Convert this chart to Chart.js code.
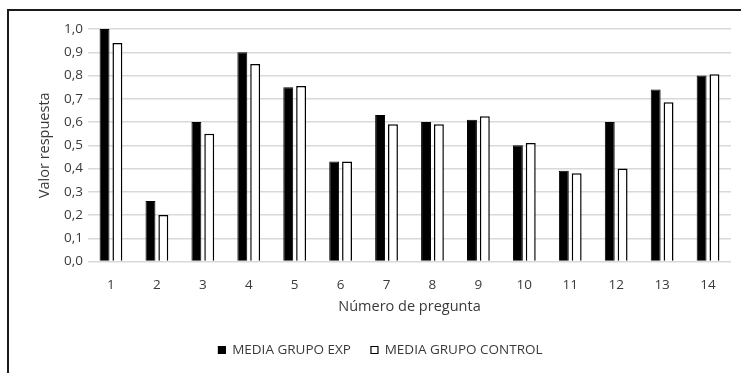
<!DOCTYPE html>
<html>
<head>
<meta charset="utf-8">
<script src="https://cdn.jsdelivr.net/npm/chart.js@4"></script>
<style>
  html, body { margin: 0; padding: 0; background: #fff; }
  #wrap { width: 741px; height: 373px; }
</style>
</head>
<body>
<div id="wrap"><canvas id="chart" width="741" height="373"></canvas></div>
<script>
// Data
const preguntas = ['1', '2', '3', '4', '5', '6', '7', '8', '9', '10', '11', '12', '13', '14'];
const mediaExp = [1.0, 0.26, 0.60, 0.90, 0.75, 0.43, 0.63, 0.60, 0.61, 0.50, 0.39, 0.60, 0.74, 0.80];
const mediaControl = [0.94, 0.20, 0.55, 0.85, 0.755, 0.43, 0.59, 0.59, 0.625, 0.51, 0.38, 0.40, 0.685, 0.805];

const FONT = '"Open Sans", "Liberation Sans", sans-serif';
const GREY = '#3a3a3a';

// Frame around the chart (like the Excel chart border)
const framePlugin = {
  id: 'frame',
  afterDraw(chart) {
    const ctx = chart.ctx;
    ctx.save();
    ctx.strokeStyle = '#1a1a1a';
    ctx.lineWidth = 2;
    ctx.strokeRect(8, 10, 760, 400);
    ctx.restore();
  }
};

const ctx = document.getElementById('chart').getContext('2d');
new Chart(ctx, {
  type: 'bar',
  data: {
    labels: preguntas,
    datasets: [
      {
        label: 'MEDIA GRUPO EXP',
        data: mediaExp,
        backgroundColor: '#000',
        borderColor: '#000',
        borderWidth: 1,
        barPercentage: 0.77,
        categoryPercentage: 0.56
      },
      {
        label: 'MEDIA GRUPO CONTROL',
        data: mediaControl,
        backgroundColor: '#fff',
        borderColor: '#000',
        borderWidth: 1.5,
        barPercentage: 0.77,
        categoryPercentage: 0.56
      }
    ]
  },
  options: {
    responsive: false,
    animation: false,
    layout: { padding: { top: 29, right: 10, bottom: 6.25, left: 30 } },
    plugins: {
      legend: {
        position: 'bottom',
        labels: {
          color: GREY,
          font: { family: FONT, size: 13.5 },
          boxWidth: 7,
          boxHeight: 7,
          padding: 20,
          generateLabels(chart) {
            return chart.data.datasets.map((ds, i) => ({
              text: ds.label,
              fillStyle: ds.backgroundColor,
              strokeStyle: '#000',
              lineWidth: 1.2,
              datasetIndex: i,
              fontColor: GREY
            }));
          }
        }
      },
      tooltip: { enabled: false }
    },
    scales: {
      x: {
        grid: { display: false },
        border: { display: false },
        ticks: { color: GREY, font: { family: FONT, size: 13.5 }, padding: 8 },
        title: {
          display: true,
          text: 'Número de pregunta',
          color: GREY,
          font: { family: FONT, size: 14.5 },
          padding: { top: 0, bottom: 7.5 }
        },
        afterFit(scale) { scale.height = 61.75; }
      },
      y: {
        min: 0,
        max: 1,
        grid: { color: '#d9d9d9', lineWidth: 1.5, drawTicks: false },
        border: { display: false },
        ticks: {
          stepSize: 0.1,
          padding: 5,
          color: GREY,
          font: { family: FONT, size: 13.5 },
          callback: v => v.toFixed(1).replace('.', ',')
        },
        title: {
          display: true,
          text: 'Valor respuesta',
          color: GREY,
          font: { family: FONT, size: 14.5 },
          padding: { top: 6, bottom: 0 }
        },
        afterFit(scale) { scale.width = 58; }
      }
    }
  },
  plugins: [framePlugin]
});
</script>
</body>
</html>
